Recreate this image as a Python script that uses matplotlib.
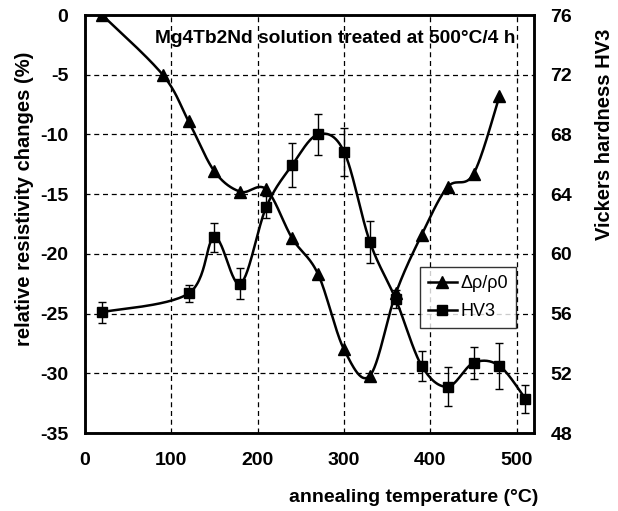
import matplotlib
matplotlib.use("Agg")
import matplotlib.pyplot as plt
import numpy as np

plt.rcParams['font.family'] = ['Liberation Sans', 'DejaVu Sans']
plt.rcParams['axes.unicode_minus'] = False

# data
temps_rho = [20, 90, 120, 150, 180, 210, 240, 270, 300, 330, 360, 390, 420, 450, 480]
rho = [0, -5, -8.9, -13.1, -14.8, -14.6, -18.7, -21.7, -28.0, -30.2, -23.3, -18.4, -14.4, -13.3, -6.8]

temps_hv = [20, 120, 150, 180, 210, 240, 270, 300, 330, 360, 390, 420, 450, 480, 510]
hv = [56.1, 57.35, 61.1, 58.0, 63.15, 65.95, 68.0, 66.85, 60.8, 56.95, 52.5, 51.1, 52.7, 52.5, 50.3]
hv_err = [0.7, 0.55, 0.95, 1.05, 0.75, 1.5, 1.4, 1.6, 1.4, 0.6, 1.0, 1.3, 1.05, 1.55, 0.95]


def smooth(x, y, n=30):
    # Excel-like smoothed line: cubic Bezier through the points
    x = np.asarray(x, float)
    y = np.asarray(y, float)
    px, py = [], []
    for i in range(len(x) - 1):
        x0, y0 = (x[i - 1], y[i - 1]) if i > 0 else (x[i], y[i])
        x3, y3 = (x[i + 2], y[i + 2]) if i + 2 < len(x) else (x[i + 1], y[i + 1])
        c1x = x[i] + (x[i + 1] - x0) / 6
        c1y = y[i] + (y[i + 1] - y0) / 6
        c2x = x[i + 1] - (x3 - x[i]) / 6
        c2y = y[i + 1] - (y3 - y[i]) / 6
        t = np.linspace(0, 1, n)
        a, b, c, d = (1 - t) ** 3, 3 * (1 - t) ** 2 * t, 3 * (1 - t) * t ** 2, t ** 3
        px.extend(a * x[i] + b * c1x + c * c2x + d * x[i + 1])
        py.extend(a * y[i] + b * c1y + c * c2y + d * y[i + 1])
    return px, py


fig = plt.figure(figsize=(6.18, 5.11), dpi=100)
ax = fig.add_axes([0.1375, 0.1526, 0.7265, 0.818])
ax2 = ax.twinx()

sx, sy = smooth(temps_rho, rho)
ax.plot(sx, sy, color='black', lw=1.8, zorder=3)
ax.plot(temps_rho, rho, ls='none', marker='^', ms=8.5, color='black', zorder=4)

hx, hy = smooth(temps_hv, hv)
ax2.plot(hx, hy, color='black', lw=1.8, zorder=3)
ax2.errorbar(temps_hv, hv, yerr=hv_err, ls='none', marker='s', ms=7, color='black',
             ecolor='black', elinewidth=1, capsize=3, capthick=1, zorder=4)

ax.set_xlim(0, 520)
ax.set_ylim(-35, 0)
ax2.set_ylim(48, 76)
ax.set_xticks([0, 100, 200, 300, 400, 500])
ax.set_yticks([0, -5, -10, -15, -20, -25, -30, -35])
ax2.set_yticks([48, 52, 56, 60, 64, 68, 72, 76])

ax.grid(True, ls=(0, (4, 3)), color='black', lw=0.9)
ax.set_axisbelow(True)

for a in (ax, ax2):
    a.tick_params(length=0, labelsize=14, pad=12)
    for lab in a.get_xticklabels() + a.get_yticklabels():
        lab.set_fontweight('bold')
    for s in a.spines.values():
        s.set_linewidth(1.8)
        s.set_color('black')
ax.tick_params(axis='x', pad=14)

fig.text(25 / 618, 1 - 199 / 511, 'relative resistivity changes (%)', rotation=90,
         ha='center', va='center', fontsize=14.5, fontweight='bold')
fig.text(605 / 618, 1 - 134.5 / 511, 'Vickers hardness HV3', rotation=90,
         ha='center', va='center', fontsize=14.5, fontweight='bold')
fig.text(538 / 618, 1 - 498 / 511, 'annealing temperature (°C)',
         ha='right', va='center', fontsize=14, fontweight='bold')

ax.text(0.958, 0.945, 'Mg4Tb2Nd solution treated at 500°C/4 h', transform=ax.transAxes,
        ha='right', va='center', fontsize=13.8, fontweight='bold')

h1 = plt.Line2D([], [], color='black', lw=1.8, marker='^', ms=8.5)
h2 = plt.Line2D([], [], color='black', lw=1.8, marker='s', ms=7)
leg = ax2.legend([h1, h2], ['Δρ/ρ0', 'HV3'], loc='upper left', bbox_to_anchor=(0.746, 0.397),
                 fontsize=13, frameon=True, fancybox=False, handlelength=1.6,
                 borderpad=0.45, labelspacing=0.6, handletextpad=0.2, borderaxespad=0)
leg.get_frame().set_edgecolor('black')
leg.get_frame().set_linewidth(1.0)
leg.set_zorder(5)

fig.savefig('out.png', dpi=100)
